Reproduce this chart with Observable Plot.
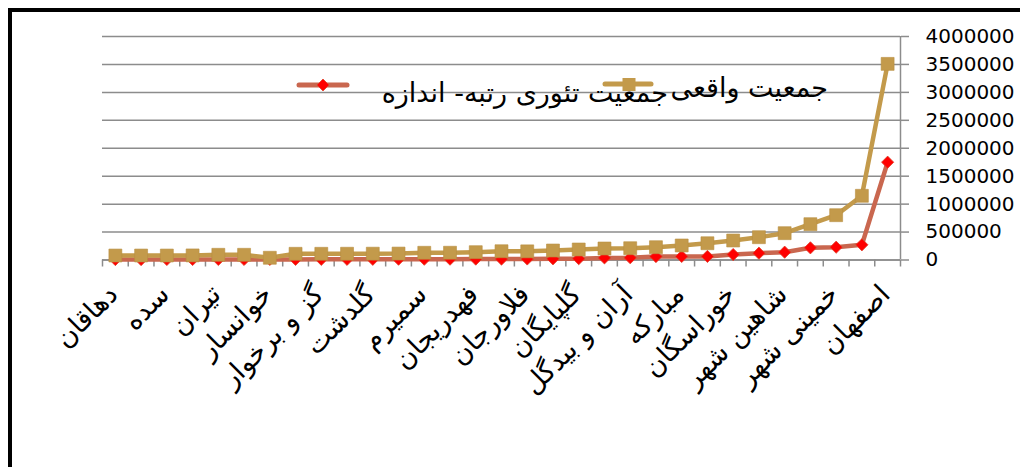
<!DOCTYPE html>
<html><head><meta charset="utf-8">
<script src="https://cdn.jsdelivr.net/npm/d3@7"></script>
<script src="https://cdn.jsdelivr.net/npm/@observablehq/plot@0.6"></script>
<style>
html,body{margin:0;padding:0;background:#fff;}
#wrap{position:relative;width:1020px;height:467px;overflow:hidden;font-family:"DejaVu Sans";background:#fff;}
#frame{position:absolute;left:7.5px;top:7.5px;width:1100px;height:600px;border-top:4px solid #000;border-left:4px solid #000;}
#chart{position:absolute;left:0;top:0;}
.leg{position:absolute;font-family:"DejaVu Sans";font-size:27px;line-height:27px;white-space:nowrap;direction:rtl;color:#000;}
#legsvg{position:absolute;left:0;top:0;pointer-events:none;}
</style></head><body>
<div id="wrap"><div id="frame"></div><div id="chart"></div></div>
<script>
// Categories (cities, ordered by population)
const cities = [
  "دهاقان","ورزنه","سده","کوهپایه","تیران","چادگان","خوانسار","نطنز",
  "گز و برخوار","فریدونشهر","گلدشت","داران","سمیرم","اردستان","فهدریجان","نایین",
  "فلاورجان","بهارستان","گلپایگان","درچه","آران و بیدگل","زرین شهر","مبارکه","فولادشهر",
  "خوراسگان","شهرضا","شاهین شهر","کاشان","خمینی شهر","نجف آباد","اصفهان"
];
// Series: actual population (gold squares)
const actualPop = [
  80000, 80000, 80000, 82000, 93000, 93000, 40000, 111000,
  111000, 112000, 113000, 115000, 129000, 130000, 140000, 157000,
  155000, 170000, 188000, 206000, 211000, 229000, 260000, 300000,
  349000, 408000, 480000, 641000, 802000, 1149000, 3510000
];
// Series: rank-size theoretical population (red diamonds)
const theoryPop = [
  8000, 8000, 9000, 9000, 10000, 10000, 11000, 11000,
  12000, 12000, 13000, 14000, 14000, 15000, 16000, 17000,
  18000, 22000, 24000, 38000, 40000, 62000, 63000, 64000,
  98000, 122000, 140000, 218000, 229000, 272000, 1750000
];
// Tick values
const yTicks = [0, 500000, 1000000, 1500000, 2000000, 2500000, 3000000, 3500000, 4000000];
const legendLabels = ["جمعیت تئوری رتبه- اندازه", "جمعیت واقعی"];

const n = cities.length;
const idx = d3.range(n);
const labelIdx = idx.filter(i => i % 2 === 0);
const bounds = d3.range(n + 1).map(i => i - 0.5);
const rows = idx.map(i => ({i, city: cities[i], actual: actualPop[i], theory: theoryPop[i]}));

const gridColor = "#8c8c8c";
const gold = "#C39A4B";
const redLine = "#C9674F";

const chart = Plot.plot({
  width: 1020, height: 467,
  marginLeft: 102, marginRight: 120, marginTop: 36, marginBottom: 207.5,
  x: {type: "linear", domain: [-0.5, n - 0.5]},
  y: {domain: [0, 4000000]},
  style: {fontFamily: "DejaVu Sans", background: "transparent", overflow: "visible"},
  marks: [
    Plot.gridY(yTicks, {stroke: gridColor, strokeOpacity: 1, strokeWidth: 1.5}),
    Plot.ruleY([0], {stroke: gridColor, strokeWidth: 1.5}),
    Plot.ruleX([n - 0.5], {y1: 0, y2: 4000000, stroke: gridColor, strokeWidth: 1.5}),
    Plot.axisX(bounds, {tickSize: 7, tickFormat: () => "", stroke: gridColor, strokeWidth: 1.5, label: null}),
    Plot.axisY(yTicks, {anchor: "right", tickSize: 8, tickPadding: 17, tickFormat: d => String(d),
      fontSize: 20, textAnchor: "start", stroke: gridColor, strokeWidth: 1.5, fill: "#000", label: null}),
    Plot.text(labelIdx, {x: d => d, y: () => 0, text: d => cities[d], rotate: -45, textAnchor: "end",
      lineAnchor: "bottom", dx: 4, dy: 36, fontSize: 27, fill: "#000"}),
    Plot.line(rows, {x: "i", y: "theory", stroke: redLine, strokeWidth: 4.5, strokeLinejoin: "round"}),
    Plot.dot(rows, {x: "i", y: "theory", symbol: "diamond2", r: 5.5, fill: "#ff0000", stroke: "#e0402a", strokeWidth: 0.8}),
    Plot.line(rows, {x: "i", y: "actual", stroke: gold, strokeWidth: 4.5, strokeLinejoin: "round"}),
    Plot.dot(rows, {x: "i", y: "actual", symbol: "square", r: 7.3, fill: gold, stroke: "#b98f42", strokeWidth: 0.6})
  ]
});
document.getElementById("chart").appendChild(chart);

// Legend (Excel-style, inside plot area)
const wrap = document.getElementById("wrap");
const ns = "http://www.w3.org/2000/svg";
const lsvg = document.createElementNS(ns, "svg");
lsvg.setAttribute("id", "legsvg");
lsvg.setAttribute("width", 1020);
lsvg.setAttribute("height", 467);
lsvg.innerHTML = `
  <line x1="299" y1="85" x2="347" y2="85" stroke="${redLine}" stroke-width="5" stroke-linecap="round"/>
  <path d="M323,79 L329,85 L323,91 L317,85 Z" fill="#ff0000" stroke="#e0402a" stroke-width="0.8"/>
  <line x1="605" y1="84" x2="651" y2="84" stroke="${gold}" stroke-width="5" stroke-linecap="round"/>
  <rect x="622.5" y="78" width="13" height="13" fill="${gold}"/>
`;
wrap.appendChild(lsvg);
const t1 = document.createElement("div");
t1.className = "leg"; t1.textContent = legendLabels[0];
t1.style.right = (1020 - 668) + "px"; t1.style.top = "79px";
wrap.appendChild(t1);
const t2 = document.createElement("div");
t2.className = "leg"; t2.textContent = legendLabels[1];
t2.style.right = (1020 - 828) + "px"; t2.style.top = "74px";
wrap.appendChild(t2);
</script>
</body></html>
